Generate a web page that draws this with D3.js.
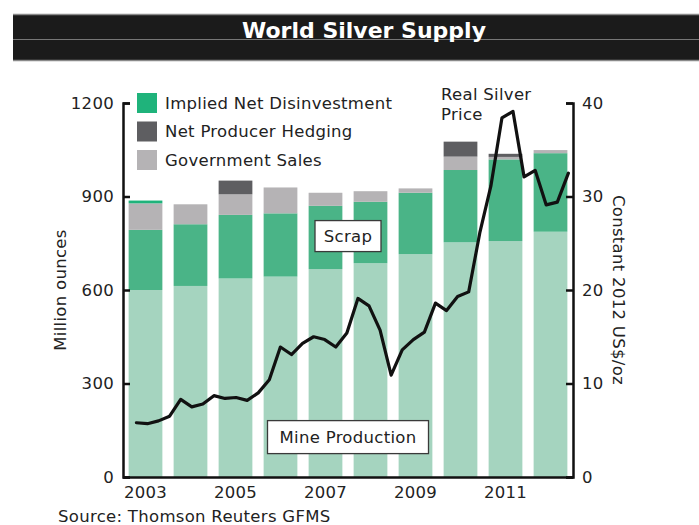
<!DOCTYPE html>
<html>
<head>
<meta charset="utf-8">
<script src="https://cdn.jsdelivr.net/npm/d3@7"></script>
<style>
  body { margin: 0; background: #fff; }
  svg { display: block; }
  text { font-family: "DejaVu Sans", Verdana, sans-serif; fill: #222; letter-spacing: 0.3px; }
</style>
</head>
<body>
<svg id="chart" width="699" height="525"></svg>
<script>
// World silver supply, million ounces, stacked by source
const years = [2003, 2004, 2005, 2006, 2007, 2008, 2009, 2010, 2011, 2012];
const mineProduction = [600, 613, 637, 643, 667, 686, 715, 753, 757, 787];
const scrap = [193, 198, 204, 203, 203, 197, 197, 232, 262, 252];
const governmentSales = [85, 64, 66, 83, 42, 34, 14, 43, 8, 10];
const netProducerHedging = [0, 0, 44, 0, 0, 0, 0, 48, 10, 0];
const impliedNetDisinvestment = [9, 0, 0, 0, 0, 0, 0, 0, 0, 0];

// Real silver price, constant 2012 US$/oz, quarterly
const quarters = years.flatMap(y => ["Q1", "Q2", "Q3", "Q4"].map(q => y + " " + q));
const realSilverPrice = [
  5.8, 5.7, 6.0, 6.5, 8.3, 7.5, 7.8, 8.7, 8.4, 8.5,
  8.2, 9.0, 10.4, 13.9, 13.1, 14.3, 15.0, 14.7, 13.9, 15.4,
  19.1, 18.3, 15.7, 10.9, 13.6, 14.7, 15.5, 18.6, 17.8, 19.3,
  19.8, 26.1, 31.1, 38.4, 39.1, 32.1, 32.8, 29.1, 29.4, 32.5
];

const leftTicks = [0, 300, 600, 900, 1200];
const rightTicks = [0, 10, 20, 30, 40];
const yearLabels = [2003, 2005, 2007, 2009, 2011];

const seriesKeys = ["mine", "scrap", "gov", "hedging", "implied"];
const seriesColors = {
  mine: "#a5d4bf",
  scrap: "#4ab487",
  gov: "#b5b3b5",
  hedging: "#5e5e61",
  implied: "#1fb37b"
};
const legendItems = [
  { key: "implied", label: "Implied Net Disinvestment" },
  { key: "hedging", label: "Net Producer Hedging" },
  { key: "gov", label: "Government Sales" }
];

const rows = years.map((year, i) => ({
  year,
  mine: mineProduction[i],
  scrap: scrap[i],
  gov: governmentSales[i],
  hedging: netProducerHedging[i],
  implied: impliedNetDisinvestment[i]
}));

const svg = d3.select("#chart");
const fontSize = "16.5px";

// ---- Title band ----
const band = svg.append("g");
band.append("rect").attr("x", 13).attr("y", 14).attr("width", 686).attr("height", 47).attr("fill", "#1b1b1b");
band.append("line").attr("x1", 13).attr("x2", 699).attr("y1", 14.5).attr("y2", 14.5).attr("stroke", "#8a8a8a").attr("stroke-width", 1.5);
band.append("line").attr("x1", 13).attr("x2", 699).attr("y1", 39.5).attr("y2", 39.5).attr("stroke", "#777").attr("stroke-width", 1);
band.append("line").attr("x1", 13).attr("x2", 699).attr("y1", 60.5).attr("y2", 60.5).attr("stroke", "#8a8a8a").attr("stroke-width", 1.5);
band.append("text")
  .attr("x", 364).attr("y", 38)
  .attr("text-anchor", "middle")
  .style("fill", "#fff").style("font-weight", "bold").style("font-size", "22px").style("letter-spacing", "0px")
  .text("World Silver Supply");

// ---- Scales ----
const plotTop = 103, plotBottom = 477, plotLeft = 123, plotRight = 573;
const x = d3.scaleBand().domain(years).range([plotLeft, plotRight]).paddingInner(0.25).paddingOuter(0.125);
const yLeft = d3.scaleLinear().domain([0, 1200]).range([plotBottom, plotTop]);
const yRight = d3.scaleLinear().domain([0, 40]).range([plotBottom, plotTop]);
const xLine = d3.scalePoint().domain(quarters)
  .range([x(2003) + x.bandwidth() * 0.23, x(2012) + x.bandwidth() * 1.03]);

// ---- Stacked bars ----
const stacked = d3.stack().keys(seriesKeys)(rows);
svg.append("g").selectAll("g").data(stacked).join("g")
  .attr("fill", d => seriesColors[d.key])
  .selectAll("rect").data(d => d.filter(p => p[1] > p[0])).join("rect")
  .attr("x", d => x(d.data.year))
  .attr("width", x.bandwidth())
  .attr("y", d => yLeft(d[1]))
  .attr("height", d => yLeft(d[0]) - yLeft(d[1]));

// ---- Boxed segment labels ----
function boxedLabel(text, cx, cy, w, h) {
  const g = svg.append("g");
  g.append("rect")
    .attr("x", cx - w / 2).attr("y", cy - h / 2)
    .attr("width", w).attr("height", h)
    .attr("fill", "#fff").attr("stroke", "#3a3a3a").attr("stroke-width", 1.3);
  g.append("text")
    .attr("x", cx).attr("y", cy).attr("dy", "0.36em")
    .attr("text-anchor", "middle").style("font-size", fontSize)
    .text(text);
}
const midX = (x(2007) + x(2008) + x.bandwidth()) / 2;
boxedLabel("Scrap", midX, yLeft(773), 66, 31);
boxedLabel("Mine Production", midX, yLeft(128), 161, 33);

// ---- Price line ----
const line = d3.line()
  .x((d, i) => xLine(quarters[i]))
  .y(d => yRight(d));
svg.append("path")
  .datum(realSilverPrice)
  .attr("d", line)
  .attr("fill", "none")
  .attr("stroke", "#111")
  .attr("stroke-width", 3.2)
  .attr("stroke-linejoin", "round")
  .attr("stroke-linecap", "round");

// ---- Axes ----
function styleAxis(g) {
  g.select(".domain").attr("stroke", "#111").attr("stroke-width", 2.5);
  g.selectAll(".tick line").attr("stroke", "#111").attr("stroke-width", 2.5);
  g.selectAll(".tick text")
    .style("font-size", fontSize)
    .style("font-family", "'DejaVu Sans', Verdana, sans-serif")
    .attr("fill", "#222");
}

svg.append("g")
  .attr("transform", `translate(${plotLeft},0)`)
  .call(d3.axisLeft(yLeft).tickValues(leftTicks).tickFormat(d3.format("d"))
    .tickSize(-7).tickSizeOuter(-7).tickPadding(9))
  .call(styleAxis);

svg.append("g")
  .attr("transform", `translate(${plotRight},0)`)
  .call(d3.axisRight(yRight).tickValues(rightTicks).tickFormat(d3.format("d"))
    .tickSize(-7).tickSizeOuter(-7).tickPadding(9))
  .call(styleAxis);

svg.append("g")
  .attr("transform", `translate(0,${plotBottom})`)
  .call(d3.axisBottom(x).tickValues(yearLabels).tickFormat(d3.format("d"))
    .tickSize(0).tickSizeOuter(0).tickPadding(9))
  .call(styleAxis);

// ---- Axis titles ----
svg.append("text")
  .attr("transform", `translate(60,${(plotTop + plotBottom) / 2}) rotate(-90)`)
  .attr("text-anchor", "middle").attr("dy", "0.36em")
  .style("font-size", fontSize)
  .text("Million ounces");

svg.append("text")
  .attr("transform", `translate(619,${(plotTop + plotBottom) / 2}) rotate(90)`)
  .attr("text-anchor", "middle").attr("dy", "0.36em")
  .style("font-size", fontSize)
  .text("Constant 2012 US$/oz");

// ---- Line label ----
const priceLabel = svg.append("text").attr("x", 441).attr("y", 100).style("font-size", fontSize);
priceLabel.append("tspan").attr("x", 441).text("Real Silver");
priceLabel.append("tspan").attr("x", 441).attr("dy", 20).text("Price");

// ---- Legend ----
const legend = svg.append("g").attr("transform", "translate(137,93)");
legendItems.forEach((item, i) => {
  const row = legend.append("g").attr("transform", `translate(0,${i * 28.5})`);
  row.append("rect").attr("width", 20).attr("height", 20).attr("fill", seriesColors[item.key]);
  row.append("text").attr("x", 28).attr("y", 10).attr("dy", "0.36em")
    .style("font-size", fontSize).text(item.label);
});

// ---- Source ----
svg.append("text").attr("x", 58).attr("y", 522).style("font-size", fontSize)
  .text("Source: Thomson Reuters GFMS");
</script>
</body>
</html>
